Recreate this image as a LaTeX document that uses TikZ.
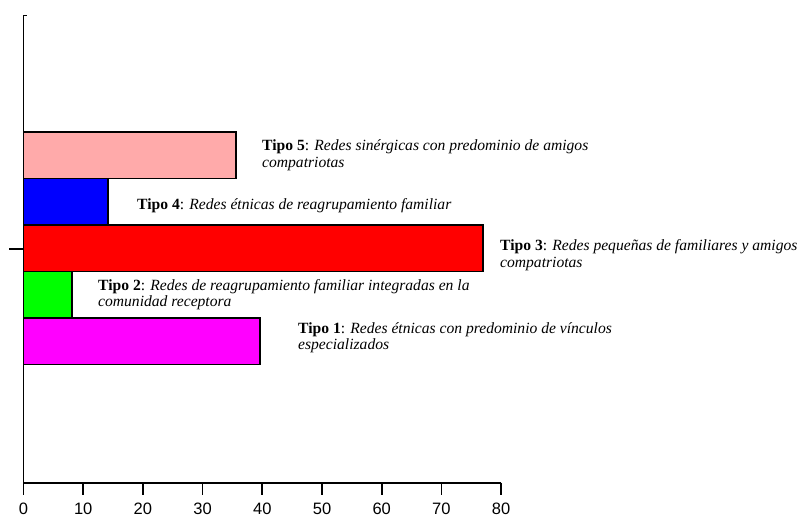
\documentclass[tikz,border=0pt]{standalone}
\usepackage{fontspec}
\setmainfont{Liberation Serif}
\newfontfamily\axisfont{Liberation Sans}
\definecolor{pinkbar}{RGB}{255,170,170}
\definecolor{bluebar}{RGB}{0,0,255}
\definecolor{redbar}{RGB}{255,0,0}
\definecolor{greenbar}{RGB}{0,255,0}
\definecolor{magentabar}{RGB}{255,0,255}
\begin{document}
\begin{tikzpicture}[x=1pt,y=-1pt,
  barbox/.style={draw=black, line width=1.3pt},
  axisline/.style={draw=black, line width=1.7pt},
  lbl/.style={anchor=west, inner sep=0pt, align=left, font=\fontsize{15.6}{16.5}\selectfont},
  ticklbl/.style={inner sep=0pt, font=\axisfont\fontsize{16.5}{17}\selectfont}]
\useasboundingbox (0,0) rectangle (801,523);
% bars
\draw[barbox, fill=pinkbar]    (23.5,132)   rectangle (236,178.5);
\draw[barbox, fill=bluebar]    (23.5,178.5) rectangle (108,225);
\draw[barbox, fill=redbar]     (23.5,225)   rectangle (483,271.5);
\draw[barbox, fill=greenbar]   (23.5,271.5) rectangle (72,318);
\draw[barbox, fill=magentabar] (23.5,318)   rectangle (260,364.5);
% axes
\coordinate (ytop) at (23.5,15);
\coordinate (origin) at (23.5,482.7);
\coordinate (xend) at (501,482.7);
\draw[axisline] (ytop) -- (origin) -- (xend);
\draw[axisline] (23.5,15.5) -- (27,15.5);
\draw[axisline] (9,249) -- (23.5,249);
\foreach \v in {0,10,...,80}{
  \pgfmathsetmacro{\px}{23.5+\v*5.97}
  \draw[axisline] (\px,482.7) -- (\px,495);
  \node[ticklbl] (t\v) at (\px,508.5) {\v};
}
% labels
\node[lbl] (l5) at (262,155) {\textbf{Tipo 5}: \textit{Redes sinérgicas con predominio de amigos}\\\textit{compatriotas}};
\node[lbl] (l4) at (137,206) {\textbf{Tipo 4}: \textit{Redes étnicas de reagrupamiento familiar}};
\node[lbl] (l3) at (500,255) {\textbf{Tipo 3}: \textit{Redes pequeñas de familiares y amigos}\\\textit{compatriotas}};
\node[lbl] (l2) at (98,294.5) {\textbf{Tipo 2}: \textit{Redes de reagrupamiento familiar integradas en la}\\\textit{comunidad receptora}};
\node[lbl] (l1) at (298,337.5) {\textbf{Tipo 1}: \textit{Redes étnicas con predominio de vínculos}\\\textit{especializados}};
\end{tikzpicture}
\end{document}
